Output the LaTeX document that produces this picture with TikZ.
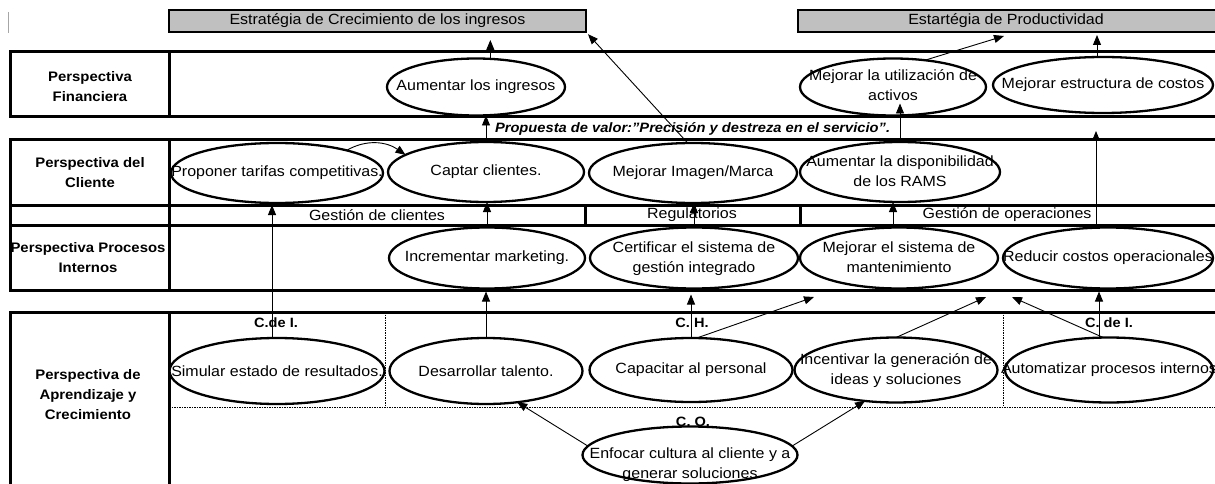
\documentclass[tikz,border=0pt]{standalone}
\usepackage{fontspec}
\setmainfont{Liberation Sans}[FakeStretch=1.08]
\usetikzlibrary{shapes.geometric,arrows.meta,calc}
\definecolor{boxgray}{RGB}{192,192,192}
\newcommand\zw[1]{\makebox[0pt]{#1}}
\newcommand\zwt[2]{\makebox[0pt]{\begin{tabular}{@{}c@{}}#1\\#2\end{tabular}}}
\begin{document}
\begin{tikzpicture}[x=1pt,y=-1pt,
  every node/.style={inner sep=0pt, outer sep=0pt},
  txt/.style={font=\fontsize{14.8}{20}\selectfont},
  oval/.style={ellipse, draw, line width=2.3pt, fill=white, font=\fontsize{14.8}{20}\selectfont},
  topbox/.style={draw, line width=2.6pt, fill=boxgray, font=\fontsize{14.8}{20}\selectfont},
  rowline/.style={line width=3pt},
  arr/.style={line width=0.9pt, -{Triangle[length=10pt,width=8pt]}},
  lbl/.style={font=\fontsize{13.8}{20}\selectfont\bfseries, align=center},
  cl/.style={font=\fontsize{13.5}{17}\selectfont\bfseries},
  dotline/.style={line width=0.7pt, dash pattern=on 1.5pt off 1pt}]
\clip (0,0) rectangle (1215,484);
\fill[white] (0,0) rectangle (1215,484);
\draw[black!35, line width=1pt] (8,12) -- (8,33);

% strategy boxes
\node[topbox, minimum width=417, minimum height=22] (s1) at (377.5,21) {Estratégia de Crecimiento de los ingresos};
\node[topbox, minimum width=424, minimum height=22] (s2) at (1010,21) {\zw{\hspace*{-8pt}Estartégia de Productividad}};

% rows
\draw[rowline] (10,52) rectangle (1240,117);
\draw[rowline] (169,52) -- (169,117);
\draw[rowline] (10,140) rectangle (1240,290);
\draw[rowline] (10,205) -- (1240,205);
\draw[rowline] (10,225) -- (1240,225);
\draw[rowline] (169,140) -- (169,290);
\draw[rowline] (585,205) -- (585,225);
\draw[rowline] (800,205) -- (800,225);
\draw[rowline] (10,312) rectangle (1240,520);
\draw[rowline] (169,312) -- (169,520);
\draw[dotline] (385,312) -- (385,407);
\draw[dotline] (1003,312) -- (1003,407);
\draw[dotline] (169,407) -- (1240,407);

% row labels
\node[lbl] (lf) at (90,87) {Perspectiva\\Financiera};
\node[lbl] (lc) at (90,173) {Perspectiva del\\Cliente};
\node[lbl] (lp) at (88,258) {Perspectiva Procesos\\Internos};
\node[lbl] (la) at (88,395) {Perspectiva de\\Aprendizaje y\\Crecimiento};

% section texts
\node[txt] (g1) at (377,215) {Gestión de clientes};
\node[txt] (g2) at (692,215) {Regulatorios};
\node[txt] (g3) at (1007,215) {Gestión de operaciones};
\node[font=\fontsize{13.6}{20}\selectfont\bfseries\itshape, anchor=west] (pv) at (495,129) {Propuesta de valor:"Precisión y destreza en el servicio".};
\node[cl] (c1) at (276,323) {C.de I.};
\node[cl] (c2) at (692,323) {C. H.};
\node[cl] (c3) at (1109,323) {C. de I.};
\node[cl] (c4) at (693,422) {C. O.};

% financial
\node[oval, minimum width=178, minimum height=57] (aum) at (476,87) {\zw{Aumentar los ingresos}};
\node[oval, minimum width=186, minimum height=57] (util) at (893,87) {\zwt{Mejorar la utilización de}{activos}};
\node[oval, minimum width=220, minimum height=56] (estr) at (1103,85) {\zw{Mejorar estructura de costos}};
% customer
\node[oval, minimum width=212, minimum height=60] (prop) at (277,173) {\zw{Proponer tarifas competitivas.}};
\node[oval, minimum width=196, minimum height=60] (captar) at (486,172) {\zw{Captar clientes.}};
\node[oval, minimum width=208, minimum height=60] (imagen) at (693,173) {\zw{Mejorar Imagen/Marca}};
\node[oval, minimum width=200, minimum height=60] (disp) at (900,172) {\zwt{Aumentar la disponibilidad}{de los RAMS}};
% internal processes
\node[oval, minimum width=196, minimum height=61] (incr) at (487,258) {\zw{Incrementar marketing.}};
\node[oval, minimum width=208, minimum height=61] (cert) at (694,258) {\zwt{Certificar el sistema de}{gestión integrado}};
\node[oval, minimum width=198, minimum height=61] (mant) at (899,258) {\zwt{Mejorar el sistema de}{mantenimiento}};
\node[oval, minimum width=210, minimum height=61] (reduc) at (1108,258) {\zw{Reducir costos operacionales}};
% learning
\node[oval, minimum width=215, minimum height=66] (sim) at (277,371) {\zw{Simular estado de resultados.}};
\node[oval, minimum width=193, minimum height=66] (des) at (486,371) {\zw{Desarrollar talento.}};
\node[oval, minimum width=203, minimum height=64] (cap) at (691,370) {\zw{Capacitar al personal}};
\node[oval, minimum width=203, minimum height=65] (inc) at (896,370) {\zwt{Incentivar la generación de}{ideas y soluciones}};
\node[oval, minimum width=208, minimum height=65] (auto) at (1109,370) {\zw{Automatizar procesos internos}};
\node[oval, minimum width=215, minimum height=57] (enf) at (690,455) {\zw{\raisebox{-13pt}[0pt][0pt]{\begin{tabular}{@{}c@{}}Enfocar cultura al cliente y a\\generar soluciones\end{tabular}}}};

% free arrow ends
\coordinate (e1) at (814,297);
\coordinate (e2) at (986,297);
\coordinate (e3) at (1012,297);

% arrows
\draw[arr, shorten >=8pt] (aum.63) -- (aum.63 |- s1.south);
\draw[arr] (captar.north) -- (captar.north |- aum.south);
\draw[arr, shorten >=3pt] (imagen.100) -- (s1.south east);
\draw[arr] (util.40) -- ($(s2.south)+(-6,4)$);
\draw[arr] ($(estr.north)+(-6,0.3)$) -- ($(estr.north |- s2.south)+(-6,3)$);
\draw[arr] (disp.north) -- ($(disp.north |- util.south)+(0,-12)$);
\draw[arr] ($(reduc.north)+(-12,0.5)$) -- ($(reduc.north |- pv)+(-12,2)$);
\draw[arr] ($(sim.north)+(-5,0)$) -- ($(prop.south)+(-5,2)$);
\draw[arr] (incr.north) -- (incr.north |- captar.south);
\draw[arr] (cert.north) -- (cert.north |- imagen.south);
\draw[arr] ($(mant.north)+(-6,0.2)$) -- ($(mant.north |- disp.south)+(-6,0)$);
\draw[arr] (des.north) -- ($(des.north |- incr.south)+(0,3)$);
\draw[arr] (cap.north) -- ($(cap.north |- cert.south)+(0,6)$);
\draw[arr] (cap.80) -- (e1);
\draw[arr] (inc.north) -- (e2);
\draw[arr] (auto.100) -- (e3);
\draw[arr] ($(auto.north)+(-10,0.3)$) -- ($(auto.north |- reduc.south)+(-10,3)$);
\draw[arr] (enf.175) -- (des.-45);
\draw[arr] (enf.5) -- (inc.-135);
\draw[arr] (prop.18) to[out=30,in=145] (captar.168);
\end{tikzpicture}
\end{document}
